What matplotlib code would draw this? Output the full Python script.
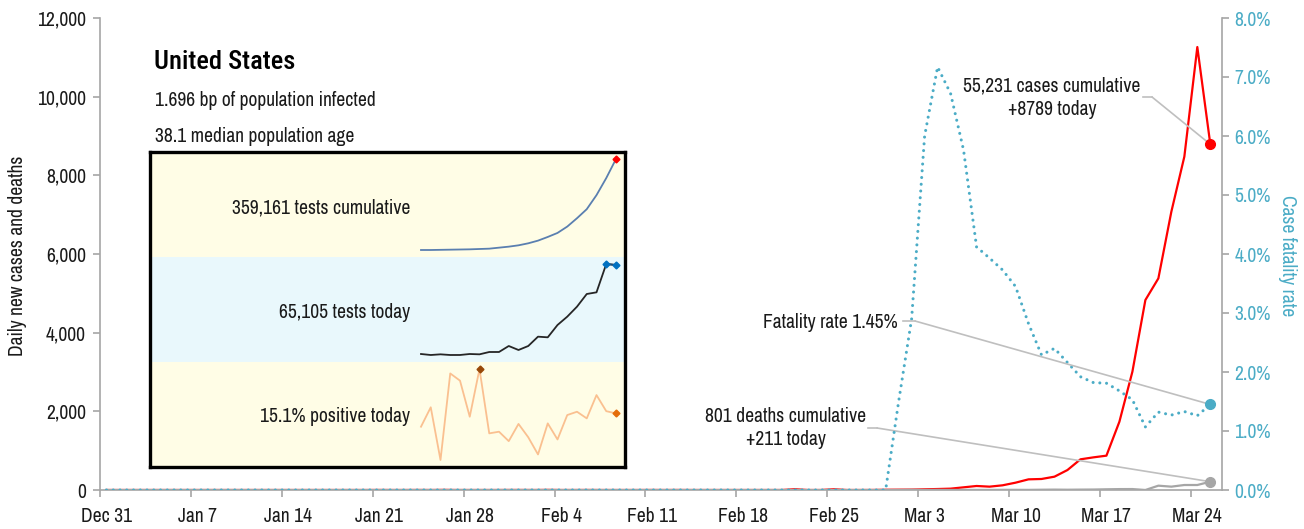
import pandas as pd
import matplotlib
matplotlib.use('Agg')
import matplotlib.pyplot as plt
from matplotlib.lines import Line2D
from matplotlib.ticker import FuncFormatter

plt.rcParams['font.family'] = ['Archivo Narrow', 'Liberation Sans', 'DejaVu Sans']

# daily series, Dec 31 2019 .. Mar 25 2020
start = '2019-12-31'
cases = [
    0, 0, 0, 0, 0, 0, 0, 0, 0, 0, 0, 0, 0, 0,
    0, 0, 0, 0, 0, 0, 0, 1, 0, 0, 1, 0, 3, 0,
    0, 0, 0, 1, 1, 0, 3, 0, 0, 1, 0, 0, 0, 0,
    1, 0, 1, 0, 0, 0, 0, 0, 0, 0, 0, 19, 0, 0,
    18, 0, 0, 1, 6, 8, 10, 17, 25, 34, 68, 102, 85, 119,
    186, 271, 280, 339, 508, 780, 830, 873, 1737, 3008, 4830, 5380, 7076, 8475,
    11262, 8789,
]
deaths = [
    0, 0, 0, 0, 0, 0, 0, 0, 0, 0, 0, 0, 0, 0,
    0, 0, 0, 0, 0, 0, 0, 0, 0, 0, 0, 0, 0, 0,
    0, 0, 0, 0, 0, 0, 0, 0, 0, 0, 0, 0, 0, 0,
    0, 0, 0, 0, 0, 0, 0, 0, 0, 0, 0, 0, 0, 0,
    0, 0, 0, 0, 0, 1, 5, 1, 4, 1, 2, 3, 2, 4,
    4, 3, 7, 10, 7, 10, 12, 18, 23, 24, 0, 110, 85, 127,
    127, 211,
]
cfr = [
    0, 0, 0, 0, 0, 0, 0, 0, 0, 0, 0, 0, 0, 0,
    0, 0, 0, 0, 0, 0, 0, 0, 0, 0, 0, 0, 0, 0,
    0, 0, 0, 0, 0, 0, 0, 0, 0, 0, 0, 0, 0, 0,
    0, 0, 0, 0, 0, 0, 0, 0, 0, 0, 0, 0, 0, 0,
    0, 0, 0, 0, 0, 1.50, 2.90, 6.00, 7.17, 6.72, 5.76, 4.12, 3.93, 3.73,
    3.45, 2.82, 2.29, 2.40, 2.16, 1.92, 1.82, 1.81, 1.68, 1.53, 1.07, 1.32, 1.27, 1.33,
    1.26, 1.45,
]

# inset sparklines (21 days)
tests_cum = [48500, 48500, 49070, 49640, 50210, 50780, 51930, 53070, 56500, 59920,
             64490, 71340, 80480, 93040, 106750, 128450, 157000, 187840, 235810,
             294060, 359161]
tests_day = [2700, 2000, 2470, 2000, 2010, 2700, 2470, 4100, 4110, 8310, 5510, 8310,
             14850, 14390, 23030, 28880, 35890, 44770, 45940, 65800, 65105]
positive = [12.7, 16.2, 6.7, 22.3, 21.0, 14.5, 23.1, 11.5, 11.8, 10.1, 13.2, 10.8,
            7.7, 13.3, 10.4, 14.8, 15.4, 14.2, 18.4, 15.5, 15.1]

RED = '#FF0000'
GREY = '#A6A6A6'
CYAN = '#4BACC6'
LEAD = '#BFBFBF'
TXT = '#1A1A1A'

W, H = 1304, 529


def fx(x):
    return x / W


def fy(y):
    return 1 - y / H


fig = plt.figure(figsize=(W / 100, H / 100), dpi=100)
renderer = fig.canvas.get_renderer()

# pick a font size so that the subtitle is as wide as in the reference (220 px)
probe = fig.text(0, 0, '1.696 bp of population infected', fontsize=14)
FS = 14 * 220 / probe.get_window_extent(renderer).width
probe.remove()

ax = fig.add_axes([fx(100), fy(490), fx(1222) - fx(100), fy(18) - fy(490)])

dates = pd.date_range(start, periods=len(cases), freq='D') + pd.Timedelta(hours=12)

ax.plot(dates, cases, color=RED, lw=1.6)
ax.plot(dates, deaths, color=GREY, lw=1.6)
ax.set_ylim(0, 12000)
ax.set_xlim(pd.Timestamp(start), pd.Timestamp(start) + pd.Timedelta(days=86.4))
# category style axis: tick marks between days, labels centred on the day
ticks = pd.date_range(start, '2020-03-24', freq='7D')
ax.set_xticks(ticks)
ax.set_xticklabels([])
ax.set_xticks(ticks + pd.Timedelta(hours=12), minor=True)
ax.set_xticklabels([f'{d:%b} {d.day}' for d in ticks], minor=True)
ax.set_yticks(range(0, 12001, 2000))
ax.yaxis.set_major_formatter(FuncFormatter(lambda v, p: f'{v:,.0f}'))

ax2 = ax.twinx()
ax2.plot(dates, cfr, color=CYAN, lw=2.2, linestyle=(0, (0.01, 2.2)),
         dash_capstyle='round')
ax2.set_ylim(0, 8)
ax2.set_yticks(range(0, 9))
ax2.yaxis.set_major_formatter(FuncFormatter(lambda v, p: f'{v:.1f}%'))

for a in (ax, ax2):
    a.spines['top'].set_visible(False)
    for s in ('left', 'right', 'bottom'):
        a.spines[s].set_color(GREY)
        a.spines[s].set_linewidth(1.2)
ax.spines['right'].set_visible(False)
ax2.spines['left'].set_visible(False)
ax2.spines['bottom'].set_visible(False)
ax.tick_params(axis='both', colors=GREY, labelcolor=TXT, labelsize=FS, length=5, width=1.2)
ax.tick_params(axis='x', which='minor', length=0, pad=12, labelsize=FS, labelcolor=TXT)
ax.tick_params(axis='y', pad=5)
ax2.tick_params(axis='y', colors=GREY, labelcolor=CYAN, labelsize=FS, length=5, width=1.2, pad=4)

# end points
ax.plot(dates[-1], cases[-1], 'o', color=RED, ms=7, zorder=5)
ax.plot(dates[-1], deaths[-1], 'o', color=GREY, ms=7, zorder=5)
ax2.plot(dates[-1], cfr[-1], 'o', color=CYAN, ms=7, zorder=5)

fig.text(fx(18), fy(256), 'Daily new cases and deaths', rotation=90, ha='center',
         va='center', fontsize=FS, color=TXT)
fig.text(fx(1287), fy(256), 'Case fatality rate', rotation=270, ha='center',
         va='center', fontsize=FS, color=CYAN)

# annotations with leader lines
leaders = [
    (ax, cases[-1], (1143, 97), (1152, 97)),
    (ax2, cfr[-1], (903, 321), (915, 321)),
    (ax, deaths[-1], (868, 428), (877, 428)),
]
for a, val, p0, p1 in leaders:
    fig.add_artist(Line2D([fx(p0[0]), fx(p1[0])], [fy(p0[1]), fy(p1[1])],
                          color=LEAD, lw=1.2))
    a.annotate('', xy=(dates[-1], val), xytext=(fx(p1[0]), fy(p1[1])),
               textcoords='figure fraction',
               arrowprops=dict(arrowstyle='-', color=LEAD, lw=1.2, shrinkA=0, shrinkB=0))

fig.text(fx(1052), fy(98), f'55,231 cases cumulative\n+{cases[-1]} today',
         ha='center', va='center', fontsize=FS, color=TXT, linespacing=1.3)
fig.text(fx(898), fy(322), 'Fatality rate 1.45%', ha='right', va='center',
         fontsize=FS, color=TXT)
fig.text(fx(786), fy(428), f'801 deaths cumulative\n+{deaths[-1]} today',
         ha='center', va='center', fontsize=FS, color=TXT, linespacing=1.3)

# title block
title = fig.text(fx(154), fy(62), 'United States', ha='left', va='center', fontsize=20,
                 family=['Roboto Condensed', 'Archivo Narrow', 'DejaVu Sans'],
                 fontweight='medium', color='black')
title.set_fontsize(20 * 141 / title.get_window_extent(renderer).width)
fig.text(fx(155), fy(101), '1.696 bp of population infected', ha='left',
         va='center', fontsize=FS, color=TXT)
fig.text(fx(155), fy(137), '38.1 median population age', ha='left',
         va='center', fontsize=FS, color=TXT)

# inset box
box = fig.add_axes([fx(150), fy(467), fx(625) - fx(150), fy(152) - fy(467)])
box.set_xlim(0, 1)
box.set_ylim(0, 3)
box.axhspan(0, 1, color='#FFFDE6', lw=0)
box.axhspan(1, 2, color='#E9F8FC', lw=0)
box.axhspan(2, 3, color='#FFFDE6', lw=0)
box.set_xticks([])
box.set_yticks([])
for s in box.spines.values():
    s.set_color('black')
    s.set_linewidth(2.4)

spark = [
    (tests_cum, 159, 250, '#5A7FB0', [(20, '#FF0000')], '359,161 tests cumulative', 208),
    (tests_day, 264, 355, '#262626', [(19, '#0070C0'), (20, '#0070C0')], '65,105 tests today', 312),
    (positive, 369, 460, '#FAC090', [(6, '#984807'), (20, '#E46C0A')], '15.1% positive today', 417),
]
for vals, top, bot, col, marks, label, ty in spark:
    sa = fig.add_axes([fx(421), fy(bot), fx(616) - fx(421), fy(top) - fy(bot)])
    sa.set_facecolor('none')
    sa.axis('off')
    xs = list(range(len(vals)))
    sa.plot(xs, vals, color=col, lw=1.3)
    if marks[0][0] == 19:
        sa.plot(xs[19:], vals[19:], color='#1F4E79', lw=1.3)
    for i, mc in marks:
        sa.plot(xs[i], vals[i], 'D', color=mc, ms=3.5, zorder=5)
    sa.set_xlim(0, len(vals) - 1)
    sa.set_ylim(min(vals), max(vals))
    for ln in sa.lines:
        ln.set_clip_on(False)
    fig.text(fx(410), fy(ty), label, ha='right', va='center', fontsize=FS, color=TXT)

fig.savefig('out.png', dpi=100)
